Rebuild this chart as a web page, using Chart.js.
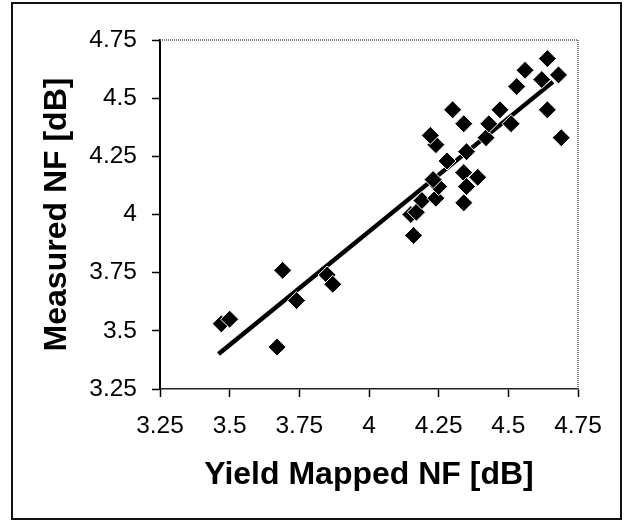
<!DOCTYPE html>
<html>
<head>
<meta charset="utf-8">
<script src="https://cdn.jsdelivr.net/npm/chart.js@4.4.1/dist/chart.umd.min.js"></script>
<style>
  html, body { margin: 0; padding: 0; background: #fff; }
  #chart { display: block; }
</style>
</head>
<body>
<canvas id="chart" width="624" height="521"></canvas>
<script>
// yield mapped NF (x) vs measured NF (y), in dB
const mappedNF = [3.47, 3.50, 3.67, 3.69, 3.74, 3.85, 3.87, 4.16, 4.15, 4.17, 4.19, 4.24,
  4.25, 4.23, 4.28, 4.24, 4.22, 4.30, 4.34, 4.35, 4.34, 4.39, 4.35, 4.34, 4.42, 4.43,
  4.47, 4.51, 4.53, 4.56, 4.62, 4.64, 4.68, 4.64, 4.69];
const measuredNF = [3.53, 3.55, 3.43, 3.76, 3.63, 3.74, 3.70, 3.91, 4.00, 4.01, 4.06, 4.07,
  4.12, 4.15, 4.23, 4.30, 4.34, 4.45, 4.39, 4.27, 4.18, 4.16, 4.12, 4.05, 4.33, 4.39,
  4.45, 4.39, 4.55, 4.62, 4.58, 4.67, 4.60, 4.45, 4.33];

// linear trend line end points
const trendX = [3.46, 4.66];
const trendY = [3.40, 4.57];

const tickValues = [3.25, 3.5, 3.75, 4, 4.25, 4.5, 4.75];
const tickLabels = ['3.25', '3.5', '3.75', '4', '4.25', '4.5', '4.75'];

const FONT = "'Liberation Sans', Arial, sans-serif";

const framePlugin = {
  id: 'frame',
  beforeDraw(chart) {
    const c = chart.ctx;
    c.save();
    c.fillStyle = '#fff';
    c.fillRect(0, 0, chart.width, chart.height);
    c.restore();
  },
  beforeDatasetsDraw(chart) {
    const c = chart.ctx;
    const a = chart.chartArea;
    c.save();
    c.strokeStyle = '#555';
    c.lineWidth = 1.5;
    c.setLineDash([1, 1]);
    c.beginPath();
    c.moveTo(a.left, a.top);
    c.lineTo(a.right, a.top);
    c.lineTo(a.right, a.bottom);
    c.stroke();
    c.restore();
  },
  afterDraw(chart) {
    const c = chart.ctx;
    c.save();
    c.strokeStyle = '#111';
    c.lineWidth = 2;
    c.strokeRect(12, 3, 609, 516);
    c.restore();
  }
};

const ticksFromList = scale => {
  scale.ticks = tickValues.map(v => ({ value: v }));
};

const ctx = document.getElementById('chart');

new Chart(ctx, {
  type: 'scatter',
  data: {
    datasets: [{
      type: 'line',
      label: 'Trend',
      data: trendX.map((x, i) => ({ x: x, y: trendY[i] })),
      borderColor: '#000',
      borderWidth: 4.5,
      pointRadius: 0,
      fill: false,
      order: 2
    }, {
      label: 'Measured NF',
      data: mappedNF.map((x, i) => ({ x: x, y: measuredNF[i] })),
      pointStyle: 'rectRot',
      pointRadius: 9,
      backgroundColor: '#000',
      borderColor: '#fff',
      borderWidth: 1,
      order: 1
    }]
  },
  options: {
    responsive: false,
    animation: false,
    devicePixelRatio: 1,
    layout: {
      padding: { left: 0, top: 40, right: 46, bottom: 0 }
    },
    plugins: {
      legend: { display: false },
      tooltip: { enabled: false }
    },
    scales: {
      x: {
        type: 'linear',
        min: 3.25,
        max: 4.75,
        afterBuildTicks: ticksFromList,
        afterFit: s => { s.height = 132; },
        grid: { drawOnChartArea: false, tickLength: 8, color: '#000', tickWidth: 1.5 },
        border: { color: '#222', width: 1.5 },
        ticks: {
          color: '#000',
          padding: 15,
          maxRotation: 0,
          font: { family: FONT, size: 24.5 },
          callback: (v, i) => tickLabels[i]
        },
        title: {
          display: true,
          text: 'Yield Mapped NF [dB]',
          color: '#000',
          padding: { top: 0, bottom: 27 },
          font: { family: FONT, size: 32, weight: 'bold' }
        }
      },
      y: {
        type: 'linear',
        min: 3.25,
        max: 4.75,
        afterBuildTicks: ticksFromList,
        afterFit: s => { s.width = 160; },
        grid: { drawOnChartArea: false, tickLength: 8, color: '#000', tickWidth: 1.5 },
        border: { color: '#000', width: 2 },
        ticks: {
          color: '#000',
          padding: 15,
          font: { family: FONT, size: 24.5 },
          callback: (v, i) => tickLabels[i]
        },
        title: {
          display: true,
          text: 'Measured NF [dB]',
          color: '#000',
          padding: { top: 38, bottom: 0 },
          font: { family: FONT, size: 32, weight: 'bold' }
        }
      }
    }
  },
  plugins: [framePlugin]
});
</script>
</body>
</html>
